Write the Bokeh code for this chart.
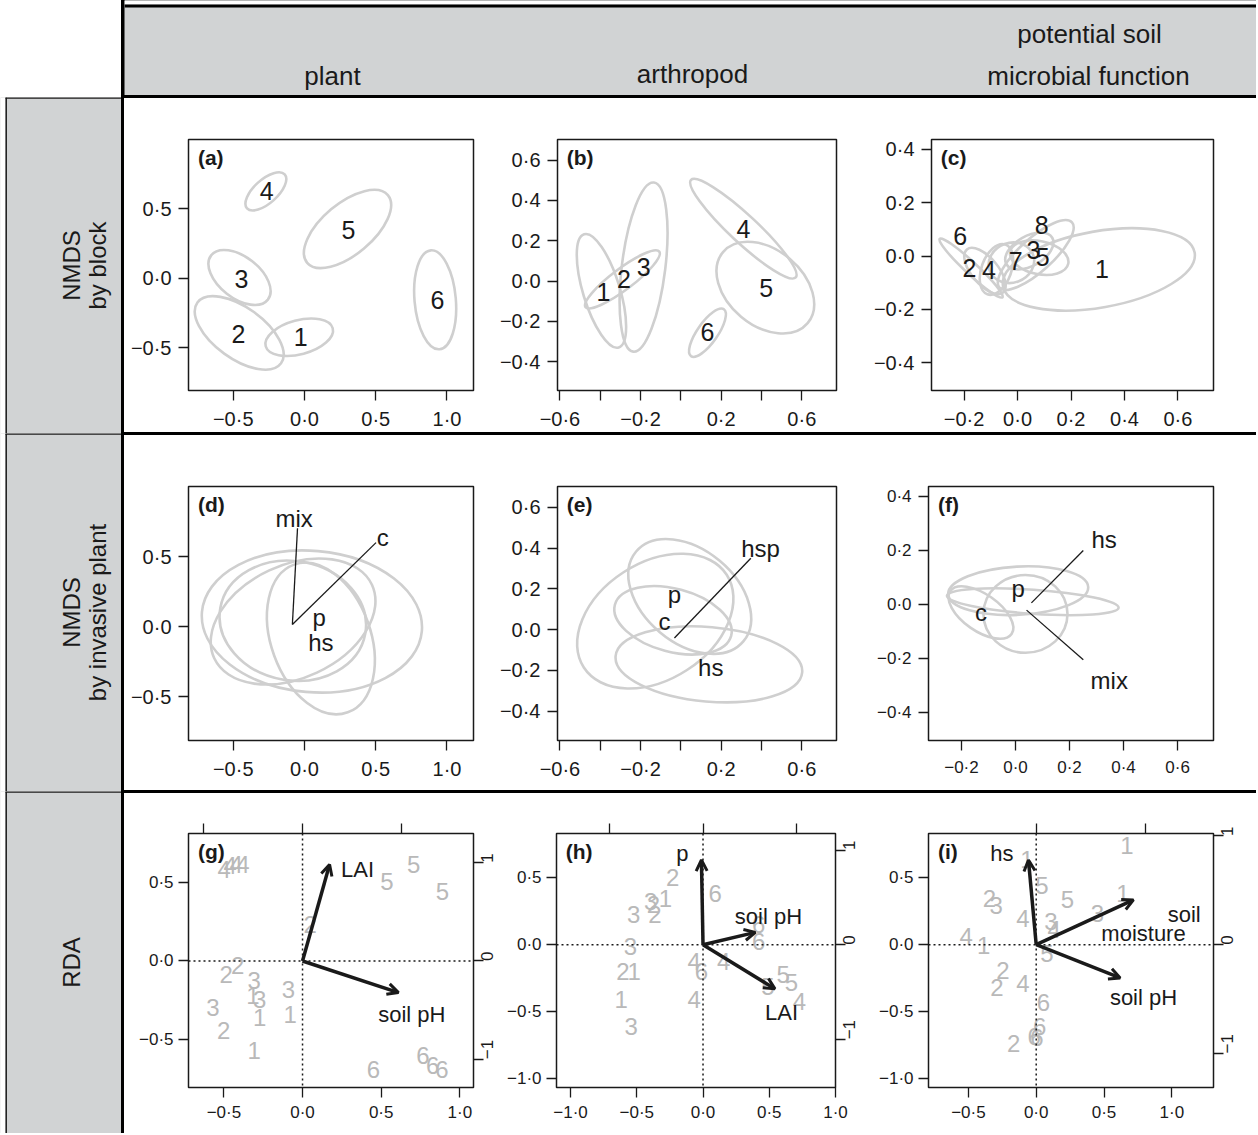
import math
from bokeh.plotting import figure
from bokeh.layouts import row, column
from bokeh.models import (Range1d, LinearAxis, FixedTicker, CustomJSTickFormatter,
                          Span, Arrow, OpenHead, ColumnDataSource, Label, BoxAnnotation)
from bokeh.core.properties import value
from bokeh.embed import file_html
from bokeh.resources import INLINE

FONT = "Liberation Sans"
GRAY_BG = "#d1d3d4"
ELL_COL = "#cfcfcf"
SITE_COL = "#b9b9b9"
INK = "#1a1a1a"

# ---------------- header / row labels ----------------
COL_TITLES = ["plant", "arthropod", "potential soil", "microbial function"]
ROW_TITLES = [["NMDS", "by block"], ["NMDS", "by invasive plant"], ["RDA"]]

# ---------------- (a) plant NMDS by block ----------------
A_ell_x = [-0.037, -0.458, -0.456, -0.271, 0.302, 0.917]
A_ell_y = [-0.426, -0.395, 0.005, 0.626, 0.355, -0.156]
A_ell_w = [0.487, 0.725, 0.505, 0.356, 0.739, 0.697]
A_ell_h = [0.246, 0.369, 0.298, 0.170, 0.369, 0.298]
A_ell_a = [15, -36, -38, 42, 40, 95]
A_lab = ["1", "2", "3", "4", "5", "6"]
A_lab_x = [-0.026, -0.463, -0.442, -0.266, 0.309, 0.933]
A_lab_y = [-0.426, -0.402, -0.005, 0.626, 0.348, -0.154]

# ---------------- (b) arthropod NMDS by block ----------------
B_ell_x = [-0.394, -0.290, -0.185, 0.310, 0.419, 0.132]
B_ell_y = [-0.049, 0.008, 0.069, 0.260, -0.033, -0.257]
B_ell_w = [0.587, 0.458, 0.845, 0.710, 0.548, 0.284]
B_ell_h = [0.183, 0.105, 0.216, 0.137, 0.376, 0.101]
B_ell_a = [107, 37, 83, -43, -40, 55]
B_lab = ["1", "2", "3", "4", "5", "6"]
B_lab_x = [-0.384, -0.282, -0.185, 0.310, 0.423, 0.132]
B_lab_y = [-0.054, 0.011, 0.069, 0.257, -0.033, -0.255]

# ---------------- (c) soil microbial NMDS by block ----------------
C_ell_x = [0.304, -0.122, 0.044, -0.079, 0.081, -0.174, -0.023, 0.068]
C_ell_y = [-0.050, -0.056, 0.019, -0.050, -0.006, -0.045, -0.025, 0.004]
C_ell_w = [0.728, 0.210, 0.198, 0.198, 0.222, 0.321, 0.173, 0.365]
C_ell_h = [0.286, 0.099, 0.112, 0.112, 0.124, 0.045, 0.149, 0.124]
C_ell_a = [10, -50, 30, 70, -12, -43, 20, 42]
C_lab = ["1", "2", "3", "4", "5", "6", "7", "8"]
C_lab_x = [0.316, -0.180, 0.059, -0.107, 0.094, -0.215, -0.007, 0.090]
C_lab_y = [-0.050, -0.043, 0.022, -0.052, -0.002, 0.077, -0.019, 0.118]

# ---------------- (d) plant NMDS by invasive plant ----------------
D_ell_x = [0.052, -0.080, -0.082, 0.115]
D_ell_y = [0.038, 0.038, 0.043, -0.083]
D_ell_w = [1.549, 1.221, 1.033, 1.103]
D_ell_h = [1.007, 0.804, 0.851, 0.709]
D_ell_a = [-5, 25, -10, 110]
D_lab = ["mix", "c", "p", "hs"]
D_lab_x = [-0.073, 0.549, 0.103, 0.115]
D_lab_y = [0.773, 0.636, 0.064, -0.113]
D_seg_x0 = [-0.085, -0.085]
D_seg_y0 = [0.017, 0.017]
D_seg_x1 = [-0.049, 0.502]
D_seg_y1 = [0.702, 0.600]

# ---------------- (e) arthropod NMDS by invasive plant ----------------
E_ell_x = [0.044, -0.127, -0.039, 0.139]
E_ell_y = [0.163, 0.042, 0.046, -0.170]
E_ell_w = [0.694, 0.845, 0.597, 0.929]
E_ell_h = [0.458, 0.572, 0.310, 0.366]
E_ell_a = [-40, 33, -15, -5]
E_lab = ["hsp", "p", "c", "hs"]
E_lab_x = [0.395, -0.032, -0.081, 0.148]
E_lab_y = [0.400, 0.175, 0.039, -0.188]
E_seg_x0 = [-0.032]
E_seg_y0 = [-0.041]
E_seg_x1 = [0.347]
E_seg_y1 = [0.351]

# ---------------- (f) soil microbial NMDS by invasive plant ----------------
F_ell_x = [0.010, 0.064, 0.037, -0.128]
F_ell_y = [0.051, 0.010, -0.035, -0.030]
F_ell_w = [0.519, 0.637, 0.311, 0.277]
F_ell_h = [0.179, 0.089, 0.288, 0.136]
F_ell_a = [3, -4, 0, -35]
F_lab = ["hs", "p", "c", "mix"]
F_lab_x = [0.328, 0.010, -0.128, 0.347]
F_lab_y = [0.239, 0.060, -0.031, -0.282]
F_seg_x0 = [0.059, 0.041]
F_seg_y0 = [0.006, -0.021]
F_seg_x1 = [0.251, 0.251]
F_seg_y1 = [0.200, -0.205]

# ---------------- (g) plant RDA ----------------
G_site = ["4", "4", "4", "4", "5", "5", "5", "2", "2", "2", "3", "1", "3", "3",
          "3", "1", "1", "2", "1", "6", "6", "6", "6"]
G_site_x = [-0.498, -0.460, -0.422, -0.379, 0.706, 0.536, 0.890, 0.049, -0.485, -0.413,
            -0.307, -0.316, -0.273, -0.089, -0.570, -0.273, -0.078, -0.502, -0.307,
            0.451, 0.765, 0.828, 0.886]
G_site_y = [0.585, 0.613, 0.617, 0.617, 0.617, 0.506, 0.443, 0.234, -0.085, -0.026,
            -0.128, -0.223, -0.245, -0.181, -0.298, -0.362, -0.340, -0.447, -0.574,
            -0.691, -0.606, -0.670, -0.691]
G_arr_x = [0.172, 0.610]
G_arr_y = [0.617, -0.202]
G_lab = ["LAI", "soil pH"]
G_lab_x = [0.350, 0.695]
G_lab_y = [0.585, -0.340]

# ---------------- (h) arthropod RDA ----------------
H_site = ["2", "6", "1", "3", "2", "2", "3", "6", "6", "3", "2", "1", "4", "6",
          "4", "5", "5", "5", "4", "1", "4", "3"]
H_site_x = [-0.230, 0.091, -0.284, -0.395, -0.375, -0.363, -0.523, 0.420, 0.420, -0.548,
            -0.605, -0.519, -0.067, -0.012, 0.156, 0.605, 0.667, 0.489, 0.728, -0.617,
            -0.067, -0.543]
H_site_y = [0.504, 0.380, 0.347, 0.323, 0.300, 0.223, 0.223, 0.149, 0.025, -0.012,
            -0.199, -0.199, -0.124, -0.199, -0.124, -0.223, -0.280, -0.310, -0.422,
            -0.409, -0.409, -0.608]
H_arr_x = [-0.012, 0.395, 0.543]
H_arr_y = [0.633, 0.092, -0.330]
H_lab = ["p", "soil pH", "LAI"]
H_lab_x = [-0.156, 0.494, 0.593]
H_lab_y = [0.682, 0.211, -0.509]

# ---------------- (i) soil microbial RDA ----------------
I_site = ["1", "1", "5", "5", "1", "3", "2", "3", "4", "3", "4", "4", "1", "5",
          "2", "2", "4", "6", "6", "6", "6", "2"]
I_site_x = [0.668, -0.069, 0.042, 0.231, 0.639, 0.452, -0.344, -0.295, -0.098, 0.108,
            0.133, -0.516, -0.388, 0.079, -0.246, -0.290, -0.098, 0.054, 0.025, -0.015,
            0.005, -0.167]
I_site_y = [0.744, 0.633, 0.439, 0.340, 0.385, 0.236, 0.347, 0.290, 0.199, 0.174,
            0.112, 0.062, -0.007, -0.062, -0.191, -0.323, -0.293, -0.429, -0.608,
            -0.687, -0.690, -0.737]
I_arr_x = [-0.057, 0.717, 0.619]
I_arr_y = [0.633, 0.335, -0.248]
I_lab = ["hs", "soil", "moisture", "soil pH"]
I_lab_x = [-0.253, 1.091, 0.791, 0.791]
I_lab_y = [0.682, 0.223, 0.087, -0.397]

# ---------------- axis ranges / ticks ----------------
AD_xr, AD_yr = (-0.814, 1.186), (-0.81, 1.0)
BE_xr, BE_yr = (-0.612, 0.772), (-0.544, 0.703)
CF_xr, CF_yr = (-0.322, 0.733), (-0.504, 0.437)
G_xr, G_yr = (-0.725, 1.087), (-0.809, 0.815)
G_top, G_right = (-1.153, 1.728), (-1.289, 1.298)
H_xr, H_yr = (-1.106, 1.0), (-1.067, 0.831)
H_top, H_right = (-1.564, 1.414), (-1.509, 1.175)
I_xr, I_yr = (-0.794, 1.307), (-1.067, 0.831)
I_top, I_right = (-0.989, 1.627), (-1.312, 1.022)

FMT1 = """
if (Math.abs(tick) < 1e-9) return "0\u00b70";
const s = Math.abs(tick).toFixed(1).replace(".", "\u00b7");
return tick < 0 ? "\u2212" + s : s;
"""
FMT_INT = """
if (Math.abs(tick) < 1e-9) return "0";
const s = Math.abs(tick).toFixed(0);
return tick < 0 ? "\u2212" + s : s;
"""


def fmt_hide(hidden):
    arr = ",".join(str(h) for h in hidden)
    return CustomJSTickFormatter(
        code="const hide=[" + arr + "]; for (const h of hide) { if (Math.abs(tick-h)<1e-9) return ''; }" + FMT1)


def style_axis(ax, size, standoff=7):
    ax.axis_line_color = None
    ax.major_tick_out = 10
    ax.major_tick_in = 0
    ax.major_tick_line_color = INK
    ax.major_tick_line_width = 1.3
    ax.minor_tick_line_color = None
    ax.major_label_text_font = FONT
    ax.major_label_text_font_size = size
    ax.major_label_text_color = INK
    ax.major_label_standoff = standoff


def make_panel(w, h, borders, xr, yr, xticks, yticks, tag, xfmt=None, size="20px", standoff=7):
    bl, br, bt, bb = borders
    p = figure(width=w, height=h, x_range=Range1d(*xr), y_range=Range1d(*yr),
               output_backend="svg", toolbar_location=None,
               min_border_left=bl, min_border_right=br, min_border_top=bt, min_border_bottom=bb,
               background_fill_color="white", border_fill_color="white")
    p.grid.visible = False
    p.outline_line_color = INK
    p.outline_line_width = 1.5
    p.outline_line_alpha = 1.0
    p.xaxis.ticker = FixedTicker(ticks=xticks)
    p.yaxis.ticker = FixedTicker(ticks=yticks)
    p.xaxis.formatter = xfmt if xfmt is not None else CustomJSTickFormatter(code=FMT1)
    p.yaxis.formatter = CustomJSTickFormatter(code=FMT1)
    for ax in p.axis:
        style_axis(ax, size, standoff)
    p.add_layout(Label(x=xr[0] + 0.033 * (xr[1] - xr[0]), y=yr[1] - 0.025 * (yr[1] - yr[0]),
                       text=tag, text_font=FONT, text_font_style="bold", text_font_size="21px",
                       text_color=INK, text_baseline="top", text_align="left"))
    return p


def add_ellipses(p, xs, ys, ws, hs, angs):
    src = ColumnDataSource(dict(x=xs, y=ys, w=ws, h=hs, a=angs))
    p.ellipse(x="x", y="y", width="w", height="h", angle="a", angle_units="deg",
              source=src, fill_color=None, line_color=ELL_COL, line_width=2.6)


def add_text(p, xs, ys, txt, size, color=INK):
    p.text(x=xs, y=ys, text=txt, text_font=value(FONT), text_font_size=size,
           text_color=color, text_align="center", text_baseline="middle")


def add_rda(p, top_r, right_r, sx, sy, st, ax_, ay_, lx, ly, lt):
    p.extra_x_ranges = {"top": Range1d(*top_r)}
    p.extra_y_ranges = {"right": Range1d(*right_r)}
    top = LinearAxis(x_range_name="top", ticker=FixedTicker(ticks=[-1, 0, 1]),
                     formatter=CustomJSTickFormatter(code="return '';"))
    style_axis(top, "17px", 3)
    p.add_layout(top, "above")
    right = LinearAxis(y_range_name="right", ticker=FixedTicker(ticks=[-1, 0, 1]),
                       formatter=CustomJSTickFormatter(code=FMT_INT))
    style_axis(right, "17px", 4)
    right.major_label_orientation = math.pi / 2
    p.add_layout(right, "right")
    p.add_layout(Span(location=0, dimension="width", line_color=INK, line_width=1.5, line_dash="2 3"))
    p.add_layout(Span(location=0, dimension="height", line_color=INK, line_width=1.5, line_dash="2 3"))
    add_text(p, sx, sy, st, "24px", SITE_COL)
    n = len(ax_)
    src = ColumnDataSource(dict(x0=[0.0] * n, y0=[0.0] * n, x1=ax_, y1=ay_))
    p.add_layout(Arrow(end=OpenHead(size=11, line_width=3, line_color=INK),
                       x_start="x0", y_start="y0", x_end="x1", y_end="y1", source=src,
                       line_width=3.5, line_color=INK))
    add_text(p, lx, ly, lt, "22px", INK)


# ---------------- row 1 (page y 98..432) ----------------
pa = make_panel(372, 334, (64, 23, 39, 40), AD_xr, AD_yr, [-0.5, 0, 0.5, 1.0], [-0.5, 0, 0.5], "(a)")
add_ellipses(pa, A_ell_x, A_ell_y, A_ell_w, A_ell_h, A_ell_a)
add_text(pa, A_lab_x, A_lab_y, A_lab, "25px")

pb = make_panel(374, 334, (55, 34, 41, 39), BE_xr, BE_yr, [-0.6, -0.4, -0.2, 0, 0.2, 0.4, 0.6],
                [-0.4, -0.2, 0, 0.2, 0.4, 0.6], "(b)", xfmt=fmt_hide([-0.4, 0, 0.4]))
add_ellipses(pb, B_ell_x, B_ell_y, B_ell_w, B_ell_h, B_ell_a)
add_text(pb, B_lab_x, B_lab_y, B_lab, "25px")

pc = make_panel(386, 334, (58, 43, 41, 39), CF_xr, CF_yr, [-0.2, 0, 0.2, 0.4, 0.6],
                [-0.4, -0.2, 0, 0.2, 0.4], "(c)")
add_ellipses(pc, C_ell_x, C_ell_y, C_ell_w, C_ell_h, C_ell_a)
add_text(pc, C_lab_x, C_lab_y, C_lab, "25px")

# ---------------- row 2 (page y 435..790) ----------------
pd = make_panel(372, 355, (64, 23, 49, 50), AD_xr, AD_yr, [-0.5, 0, 0.5, 1.0], [-0.5, 0, 0.5], "(d)")
add_ellipses(pd, D_ell_x, D_ell_y, D_ell_w, D_ell_h, D_ell_a)
pd.segment(x0=D_seg_x0, y0=D_seg_y0, x1=D_seg_x1, y1=D_seg_y1, line_color=INK, line_width=1.3)
add_text(pd, D_lab_x, D_lab_y, D_lab, "24px")

pe = make_panel(374, 355, (55, 34, 51, 49), BE_xr, BE_yr, [-0.6, -0.4, -0.2, 0, 0.2, 0.4, 0.6],
                [-0.4, -0.2, 0, 0.2, 0.4, 0.6], "(e)", xfmt=fmt_hide([-0.4, 0, 0.4]))
add_ellipses(pe, E_ell_x, E_ell_y, E_ell_w, E_ell_h, E_ell_a)
pe.segment(x0=E_seg_x0, y0=E_seg_y0, x1=E_seg_x1, y1=E_seg_y1, line_color=INK, line_width=1.3)
add_text(pe, E_lab_x, E_lab_y, E_lab, "24px")

pf = make_panel(386, 355, (58, 43, 51, 49), CF_xr, CF_yr, [-0.2, 0, 0.2, 0.4, 0.6],
                [-0.4, -0.2, 0, 0.2, 0.4], "(f)", size="17px")
add_ellipses(pf, F_ell_x, F_ell_y, F_ell_w, F_ell_h, F_ell_a)
pf.segment(x0=F_seg_x0, y0=F_seg_y0, x1=F_seg_x1, y1=F_seg_y1, line_color=INK, line_width=1.3)
add_text(pf, F_lab_x, F_lab_y, F_lab, "24px")

# ---------------- row 3 (page y 793..1133) ----------------
pg = make_panel(380, 340, (64, 31, 39, 46), G_xr, G_yr, [-0.5, 0, 0.5, 1.0], [-0.5, 0, 0.5], "(g)",
                size="17px", standoff=5)
add_rda(pg, G_top, G_right, G_site_x, G_site_y, G_site, G_arr_x, G_arr_y, G_lab_x, G_lab_y, G_lab)

ph = make_panel(366, 340, (47, 35, 40, 45), H_xr, H_yr, [-1.0, -0.5, 0, 0.5, 1.0], [-1.0, -0.5, 0, 0.5],
                "(h)", size="17px", standoff=5)
add_rda(ph, H_top, H_right, H_site_x, H_site_y, H_site, H_arr_x, H_arr_y, H_lab_x, H_lab_y, H_lab)

pi_ = make_panel(386, 340, (58, 43, 40, 45), I_xr, I_yr, [-0.5, 0, 0.5, 1.0], [-1.0, -0.5, 0, 0.5],
                 "(i)", size="17px", standoff=5)
add_rda(pi_, I_top, I_right, I_site_x, I_site_y, I_site, I_arr_x, I_arr_y, I_lab_x, I_lab_y, I_lab)

# ---------------- header (page y 0..95, x 124..1256) ----------------
HW, HH = 1132, 95
hdr = figure(width=HW, height=HH, x_range=Range1d(0, HW), y_range=Range1d(0, HH),
             x_axis_location=None, y_axis_location=None, min_border=0,
             toolbar_location=None, output_backend="svg",
             background_fill_color=GRAY_BG, border_fill_color=GRAY_BG)
hdr.grid.visible = False
hdr.outline_line_color = None
hdr.add_layout(BoxAnnotation(bottom=HH - 4, top=HH + 2, fill_color="white", fill_alpha=1.0,
                             line_color=None))
hdr.add_layout(Span(location=HH - 5.5, dimension="width", line_color="black", line_width=3))
hdr.text(x=[208, 568, 965, 964], y=[20, 22, 62, 20], text=COL_TITLES,
         text_font=value(FONT), text_font_size="26px", text_color=INK,
         text_align="center", text_baseline="middle")

# ---------------- left column (page x 0..121) ----------------
LW = 121


def label_cell(h, lines, xs):
    f = figure(width=LW, height=h, x_range=Range1d(0, LW), y_range=Range1d(0, h),
               x_axis_location=None, y_axis_location=None, min_border=0,
               toolbar_location=None, output_backend="svg",
               background_fill_color=GRAY_BG, border_fill_color=GRAY_BG)
    f.grid.visible = False
    f.outline_line_color = None
    f.add_layout(BoxAnnotation(left=-2, right=5, fill_color="white", fill_alpha=1.0, line_color=None))
    f.add_layout(BoxAnnotation(left=5, right=LW + 2, bottom=h - 1.3, top=h + 2,
                               fill_color=INK, fill_alpha=1.0, line_color=None))
    f.add_layout(Span(location=5.7, dimension="height", line_color=INK, line_width=1.5))
    f.text(x=xs, y=[h / 2] * len(lines), text=lines, angle=90, angle_units="deg",
           text_font=value(FONT), text_font_size="24px", text_color=INK,
           text_align="center", text_baseline="middle")
    return f


corner = figure(width=LW, height=97, x_range=Range1d(0, 1), y_range=Range1d(0, 1),
                x_axis_location=None, y_axis_location=None, min_border=0,
                toolbar_location=None, output_backend="svg",
                background_fill_color="white", border_fill_color="white")
corner.grid.visible = False
corner.outline_line_color = None

l1 = label_cell(336, ROW_TITLES[0], [71, 97])
l2 = label_cell(358, ROW_TITLES[1], [71, 97])
l3 = label_cell(342, ROW_TITLES[2], [71])

WHITE = {"background-color": "white"}
left_col = column(corner, l1, l2, l3, spacing=0, styles=WHITE)
r1 = row(pa, pb, pc, spacing=0, styles=WHITE)
r2 = row(pd, pe, pf, spacing=0, styles=WHITE)
r3 = row(pg, ph, pi_, spacing=0, styles=WHITE)
right_col = column(hdr, r1, r2, r3, spacing=3, styles={"background-color": "black"})
root = row(left_col, right_col, spacing=3, styles={"background-color": "black"})

open("out.html", "w").write(file_html(root, INLINE))
